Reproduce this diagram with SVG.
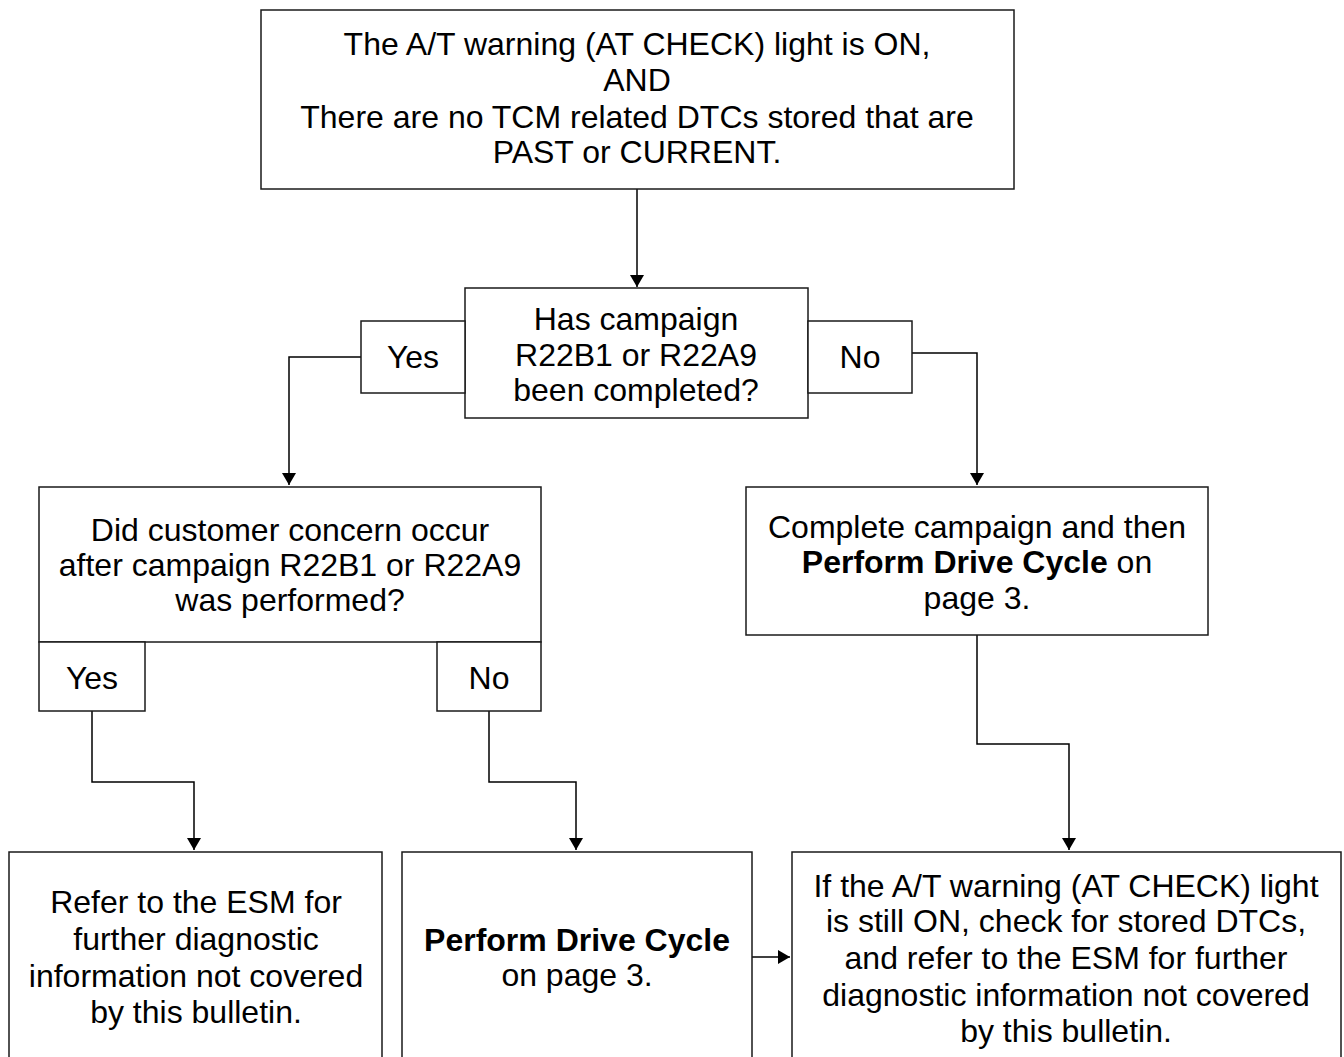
<svg xmlns="http://www.w3.org/2000/svg" width="1344" height="1057" viewBox="0 0 1344 1057">
<style>
.box{fill:#fff;stroke:#1a1a1a;stroke-width:1.5}
.t{font-family:"Liberation Sans",Arial,sans-serif;font-size:32px;fill:#000;text-anchor:middle}
.b{font-weight:bold}
.c{fill:none;stroke:#000;stroke-width:1.5}
</style>
<defs>
<marker id="ah" markerWidth="12" markerHeight="14" refX="12" refY="7" orient="auto" markerUnits="userSpaceOnUse">
<path d="M0,0 L12,7 L0,14 Z" fill="#000"/>
</marker>
</defs>
<rect width="1344" height="1057" fill="#fff"/>
<g id="connectors">
<path class="c" d="M637,189 V287" marker-end="url(#ah)"/>
<path class="c" d="M361,357 H289 V485" marker-end="url(#ah)"/>
<path class="c" d="M912,353 H977 V485" marker-end="url(#ah)"/>
<path class="c" d="M92,711 V782 H194 V850" marker-end="url(#ah)"/>
<path class="c" d="M489,711 V782 H576 V850" marker-end="url(#ah)"/>
<path class="c" d="M977,635 V744 H1069 V850" marker-end="url(#ah)"/>
<path class="c" d="M752,957 H790" marker-end="url(#ah)"/>
</g>
<g id="start">
<rect class="box" x="261" y="10" width="753" height="179"/>
<text class="t" x="637" y="55">The A/T warning (AT CHECK) light is ON,</text>
<text class="t" x="637" y="91">AND</text>
<text class="t" x="637" y="128">There are no TCM related DTCs stored that are</text>
<text class="t" x="637" y="163">PAST or CURRENT.</text>
</g>
<g id="decision1">
<rect class="box" x="465" y="288" width="343" height="130"/>
<text class="t" x="636" y="330">Has campaign</text>
<text class="t" x="636" y="366">R22B1 or R22A9</text>
<text class="t" x="636" y="401">been completed?</text>
</g>
<g id="yes1">
<rect class="box" x="361" y="321" width="104" height="72"/>
<text class="t" x="413" y="368">Yes</text>
</g>
<g id="no1">
<rect class="box" x="808" y="321" width="104" height="72"/>
<text class="t" x="860" y="368">No</text>
</g>
<g id="decision2">
<rect class="box" x="39" y="487" width="502" height="155"/>
<text class="t" x="290" y="541">Did customer concern occur</text>
<text class="t" x="290" y="576">after campaign R22B1 or R22A9</text>
<text class="t" x="290" y="611">was performed?</text>
</g>
<g id="yes2">
<rect class="box" x="39" y="642" width="106" height="69"/>
<text class="t" x="92" y="689">Yes</text>
</g>
<g id="no2">
<rect class="box" x="437" y="642" width="104" height="69"/>
<text class="t" x="489" y="689">No</text>
</g>
<g id="complete">
<rect class="box" x="746" y="487" width="462" height="148"/>
<text class="t" x="977" y="538">Complete campaign and then</text>
<text class="t" x="977" y="573"><tspan class="b">Perform Drive Cycle</tspan> on</text>
<text class="t" x="977" y="609">page 3.</text>
</g>
<g id="refer">
<path class="box" d="M9,1060 V852 H382 V1060"/>
<text class="t" x="196" y="913">Refer to the ESM for</text>
<text class="t" x="196" y="950">further diagnostic</text>
<text class="t" x="196" y="987">information not covered</text>
<text class="t" x="196" y="1023">by this bulletin.</text>
</g>
<g id="drive">
<path class="box" d="M402,1060 V852 H752 V1060"/>
<text class="t b" x="577" y="951">Perform Drive Cycle</text>
<text class="t" x="577" y="986">on page 3.</text>
</g>
<g id="final">
<path class="box" d="M792,1060 V852 H1341 V1060"/>
<text class="t" x="1066" y="897">If the A/T warning (AT CHECK) light</text>
<text class="t" x="1066" y="932">is still ON, check for stored DTCs,</text>
<text class="t" x="1066" y="969">and refer to the ESM for further</text>
<text class="t" x="1066" y="1006">diagnostic information not covered</text>
<text class="t" x="1066" y="1042">by this bulletin.</text>
</g>
</svg>
